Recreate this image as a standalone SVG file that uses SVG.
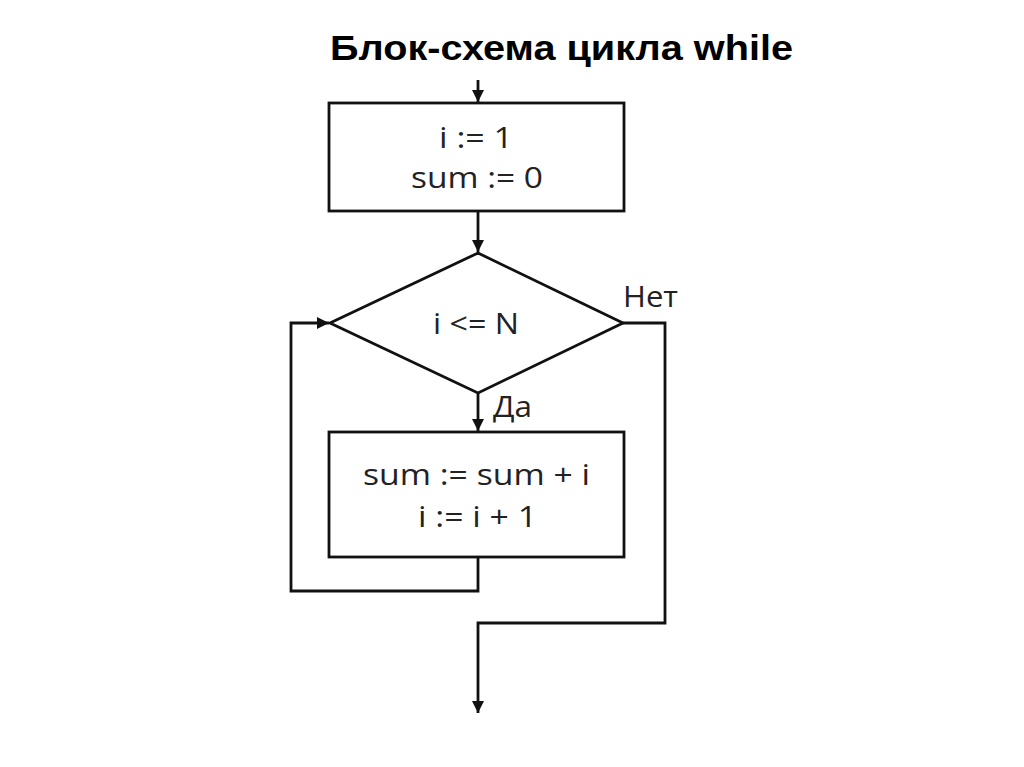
<svg xmlns="http://www.w3.org/2000/svg" width="1024" height="767" viewBox="0 0 1024 767">
<style>
.shape{fill:#fff;stroke:#111;stroke-width:2.8}
.line{fill:none;stroke:#111;stroke-width:2.8}
.t{font-family:"Open Sans","Liberation Sans",sans-serif;font-size:29px;fill:#222}
.title{font-family:"Liberation Sans",Arial,sans-serif;font-weight:bold;font-size:35px;fill:#000}
</style>
<defs>
<marker id="arr" viewBox="0 0 10 10" refX="10" refY="5" markerWidth="12" markerHeight="12" markerUnits="userSpaceOnUse" orient="auto">
<path d="M0,0 L10,5 L0,10 z" fill="#111"/>
</marker>
</defs>
<rect width="1024" height="767" fill="#fff"/>
<text class="title" x="330" y="60" textLength="463" lengthAdjust="spacingAndGlyphs">Блок-схема цикла while</text>
<g id="connectors">
<line class="line" x1="478" y1="80" x2="478" y2="102" marker-end="url(#arr)"/>
<line class="line" x1="478" y1="211" x2="478" y2="252" marker-end="url(#arr)"/>
<line class="line" x1="478" y1="393" x2="478" y2="431" marker-end="url(#arr)"/>
<polyline class="line" points="478,557 478,591 291,591 291,323 329,323" marker-end="url(#arr)"/>
<polyline class="line" points="623,323 665,323 665,623 478,623 478,713" marker-end="url(#arr)"/>
</g>
<g id="init">
<rect class="shape" x="329" y="103" width="295" height="108"/>
<text class="t" x="439" y="148" textLength="74" lengthAdjust="spacingAndGlyphs">i := 1</text>
<text class="t" x="411" y="188" textLength="132" lengthAdjust="spacingAndGlyphs">sum := 0</text>
</g>
<g id="cond">
<polygon class="shape" points="478,253 623,323 478,393 330,323"/>
<text class="t" x="433" y="334" textLength="86" lengthAdjust="spacingAndGlyphs">i &lt;= N</text>
<text class="t" x="623" y="307" textLength="55" lengthAdjust="spacingAndGlyphs">Нет</text>
<text class="t" x="493" y="417" textLength="39" lengthAdjust="spacingAndGlyphs">Да</text>
</g>
<g id="body">
<rect class="shape" x="329" y="432" width="295" height="125"/>
<text class="t" x="363" y="485" textLength="227" lengthAdjust="spacingAndGlyphs">sum := sum + i</text>
<text class="t" x="418" y="527" textLength="119" lengthAdjust="spacingAndGlyphs">i := i + 1</text>
</g>
</svg>
